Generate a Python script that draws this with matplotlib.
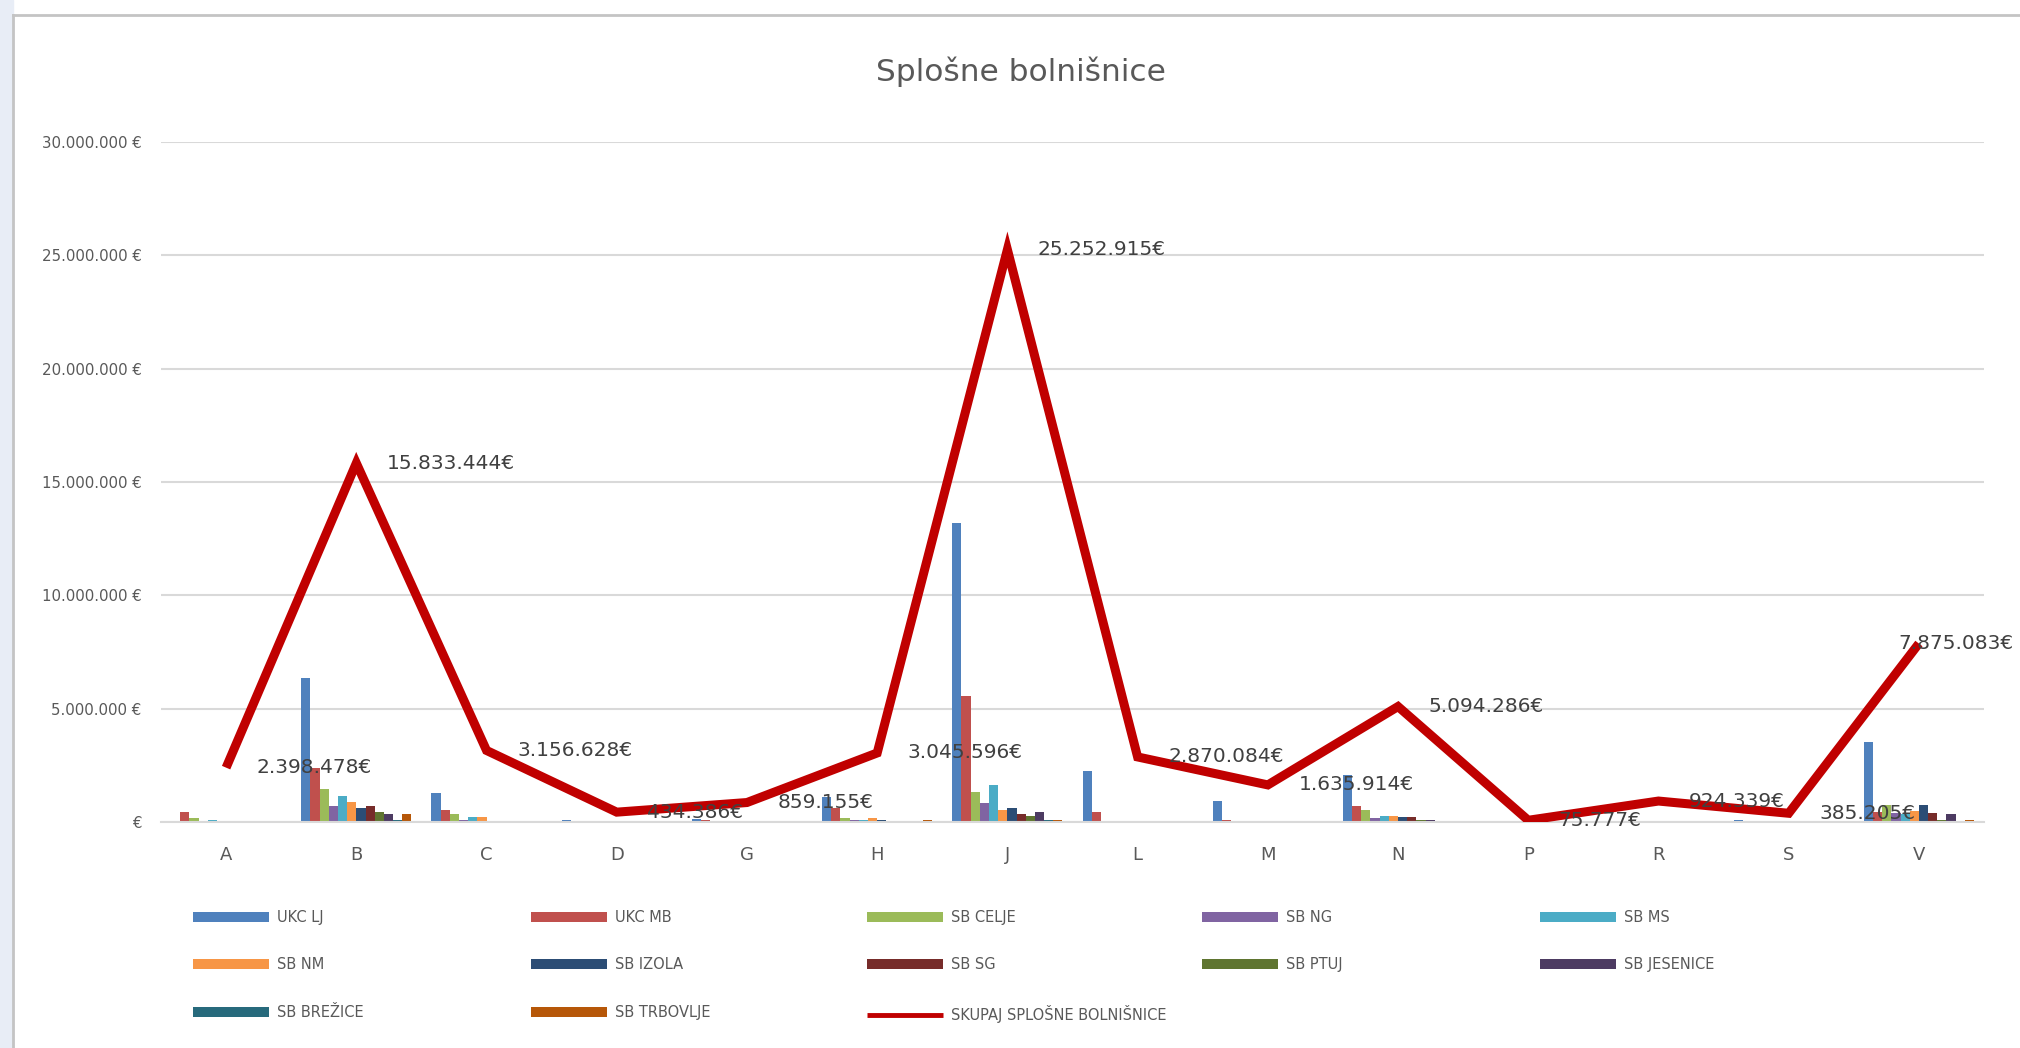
import matplotlib
matplotlib.use("Agg")
from matplotlib import pyplot as plt
from matplotlib.patches import Rectangle
from matplotlib.lines import Line2D
import numpy as np

categories = ["A", "B", "C", "D", "G", "H", "J", "L", "M", "N", "P", "R", "S", "V"]

ukc_lj = [0, 6340000, 1300000, 100000, 150000, 1120000, 13200000, 2240000, 940000, 2090000, 0, 50000, 80000, 3550000]
ukc_mb = [450000, 2390000, 520000, 20000, 100000, 600000, 5570000, 420000, 70000, 720000, 30000, 30000, 0, 450000]
sb_celje = [190000, 1460000, 360000, 0, 0, 190000, 1340000, 0, 0, 520000, 0, 0, 0, 740000]
sb_ng = [20000, 720000, 100000, 0, 0, 100000, 850000, 0, 0, 180000, 0, 0, 0, 410000]
sb_ms = [70000, 1150000, 210000, 0, 0, 100000, 1640000, 0, 0, 280000, 0, 0, 0, 350000]
sb_nm = [0, 870000, 210000, 0, 0, 190000, 520000, 0, 0, 280000, 0, 0, 0, 500000]
sb_izola = [0, 630000, 0, 0, 0, 100000, 630000, 0, 0, 210000, 0, 0, 0, 740000]
sb_sg = [0, 720000, 0, 0, 0, 0, 340000, 0, 0, 210000, 0, 0, 0, 410000]
sb_ptuj = [0, 420000, 0, 0, 0, 0, 250000, 0, 0, 100000, 0, 0, 0, 90000]
sb_jesenice = [0, 370000, 0, 0, 0, 0, 430000, 0, 0, 100000, 0, 0, 0, 340000]
sb_brezice = [0, 100000, 0, 0, 0, 0, 70000, 0, 0, 0, 0, 0, 0, 30000]
sb_trbovlje = [0, 370000, 0, 0, 0, 100000, 70000, 0, 0, 0, 0, 0, 0, 90000]

skupaj = [2398478, 15833444, 3156628, 434386, 859155, 3045596, 25252915,
          2870084, 1635914, 5094286, 75777, 924339, 385205, 7875083]

series_names = ["UKC LJ", "UKC MB", "SB CELJE", "SB NG", "SB MS", "SB NM",
                "SB IZOLA", "SB SG", "SB PTUJ", "SB JESENICE", "SB BREŽICE", "SB TRBOVLJE"]
series_vals = [ukc_lj, ukc_mb, sb_celje, sb_ng, sb_ms, sb_nm,
               sb_izola, sb_sg, sb_ptuj, sb_jesenice, sb_brezice, sb_trbovlje]
colors = ["#4F81BD", "#C0504D", "#9BBB59", "#8064A2", "#4BACC6", "#F79646",
          "#2C4D75", "#772C2A", "#5F7530", "#4D3B62", "#276A7C", "#B65708"]
line_name = "SKUPAJ SPLOŠNE BOLNIŠNICE"


def eur(v):
    if v == 0:
        return "€"
    return f"{v:,.0f}".replace(",", ".") + " €"


W, H = 2020, 1048
fig = plt.figure(figsize=(W / 100, H / 100), dpi=100)

# window frame
fig.patches.append(Rectangle((0, 0), 13 / W, 1, transform=fig.transFigure, color="#e8edf6", zorder=0))
fig.lines.append(Line2D([13 / W, 13 / W], [0, 1 - 15 / H], transform=fig.transFigure, color="#c4c4c4", lw=2))
fig.lines.append(Line2D([13 / W, 1], [1 - 15 / H, 1 - 15 / H], transform=fig.transFigure, color="#c4c4c4", lw=2))

ax = fig.add_axes([161 / W, 1 - 822 / H, (1984 - 161) / W, (822 - 142) / H])
x = np.arange(len(categories))
w = 0.0705
bars = []
for i, (name, vals, c) in enumerate(zip(series_names, series_vals, colors)):
    b = ax.bar(x + (i - 5.5) * w, vals, width=w, color=c, label=name, zorder=2)
    bars.append(b)

ln, = ax.plot(x, skupaj, color="#C00000", lw=6.5, label=line_name, zorder=3,
              solid_joinstyle="miter", solid_capstyle="butt")

for i, v in enumerate(skupaj):
    dx = 22 if i < len(skupaj) - 1 else -15
    ax.annotate(eur(v).replace(" €", "€"), (x[i], v), xytext=(dx, 0), textcoords="offset points",
                ha="left", va="center", fontsize=14.5, color="#404040", zorder=4,
                annotation_clip=False)

ax.set_xlim(-0.5, len(categories) - 0.5)
ax.set_ylim(0, 30000000)
ax.set_yticks(np.arange(0, 30000001, 5000000))
ax.set_yticklabels([eur(t) for t in np.arange(0, 30000001, 5000000)])
ax.set_xticks(x)
ax.set_xticklabels(categories)
ax.tick_params(axis="y", length=0, pad=14, labelsize=10.8, labelcolor="#595959")
ax.tick_params(axis="x", length=0, pad=17, labelsize=13, labelcolor="#595959")
ax.grid(axis="y", color="#d9d9d9", lw=1.5, zorder=0)
for s in ["top", "right", "left"]:
    ax.spines[s].set_visible(False)
ax.spines["bottom"].set_color("#d9d9d9")
ax.spines["bottom"].set_linewidth(1.5)

fig.text(1021 / W, 1 - 72 / H, "Splošne bolnišnice", ha="center", va="center",
         fontsize=22.5, color="#595959")

# legend, row-wise like the original, one legend per column
handles = [b for b in bars] + [ln]
labels = series_names + [line_name]
col_x = [193, 531, 867, 1202, 1540]
for c in range(5):
    idx = list(range(c, len(handles), 5))
    leg = fig.legend([handles[k] for k in idx], [labels[k] for k in idx],
                     loc="upper left", bbox_to_anchor=(col_x[c] / W, 1 - 910 / H),
                     frameon=False, fontsize=10.5, handlelength=5.2, handleheight=0.7,
                     handletextpad=0.55, labelspacing=2.22, borderpad=0, borderaxespad=0)
    for t in leg.get_texts():
        t.set_color("#595959")
    for h in leg.legend_handles:
        if isinstance(h, Line2D):
            h.set_linewidth(3.5)

fig.savefig("out.png", dpi=100, facecolor="white")
